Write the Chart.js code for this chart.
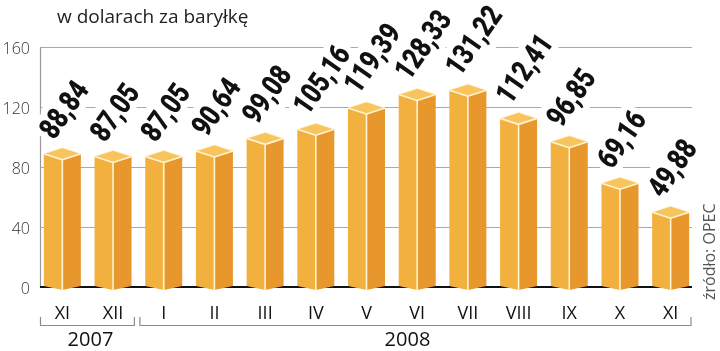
<!DOCTYPE html>
<html><head><meta charset="utf-8">
<script src="https://cdn.jsdelivr.net/npm/chart.js@4"></script>
<style>html,body{margin:0;padding:0;background:#fff}#wrap{width:720px;height:351px}</style>
</head><body><div id="wrap"><canvas id="c" width="720" height="351"></canvas></div>
<script>
const categories = ['XI','XII','I','II','III','IV','V','VI','VII','VIII','IX','X','XI'];
const prices = [88.84,87.05,87.05,90.64,99.08,105.16,119.39,128.33,131.22,112.41,96.85,69.16,49.88];
const valueLabels = ['88,84','87,05','87,05','90,64','99,08','105,16','119,39','128,33','131,22','112,41','96,85','69,16','49,88'];
const yTicks = [0,40,80,120,160];
const yearGroups = [{label:'2007', from:0, to:1},{label:'2008', from:2, to:12}];
const titleText = 'w dolarach za baryłkę';
const sourceText = 'źródło: OPEC';

function poly(ctx, pts, fill){
  ctx.beginPath(); ctx.moveTo(pts[0][0],pts[0][1]);
  for(let i=1;i<pts.length;i++) ctx.lineTo(pts[i][0],pts[i][1]);
  ctx.closePath(); ctx.fillStyle=fill; ctx.fill();
}
const LABEL_FONT = '900 30px Roboto';
const LABEL_ANGLE = -55*Math.PI/180;
const LABEL_SX = 0.8;
function labelOrigin(bar){ return [bar.x-8, bar.y-13]; }
function drawLabel(ctx, bar, text, halo){
  const [ox,oy]=labelOrigin(bar);
  ctx.save(); ctx.translate(ox,oy); ctx.rotate(LABEL_ANGLE); ctx.scale(LABEL_SX,1);
  if(halo) ctx.strokeText(text,0,0); else ctx.fillText(text,0,0);
  ctx.restore();
}

const deco = {
  id:'deco',
  beforeDatasetsDraw(chart){
    const {ctx, chartArea:a, scales:{x,y}} = chart;
    ctx.save();
    ctx.strokeStyle='#a9a9a9'; ctx.lineWidth=1;
    yTicks.forEach(v=>{
      if(v===0) return;
      const py=Math.round(y.getPixelForValue(v))+0.5;
      ctx.beginPath(); ctx.moveTo(40,py); ctx.lineTo(a.right-4,py); ctx.stroke();
    });
    const y0=Math.round(y.getPixelForValue(0));
    ctx.strokeStyle='#9a9a9a'; ctx.lineWidth=1.2;
    ctx.beginPath(); ctx.moveTo(40.5,a.top); ctx.lineTo(40.5,y0); ctx.stroke();
    ctx.strokeStyle='#111'; ctx.lineWidth=2;
    ctx.beginPath(); ctx.moveTo(40,y0); ctx.lineTo(a.right-4,y0); ctx.stroke();
    const meta=chart.getDatasetMeta(0);
    ctx.font=LABEL_FONT; ctx.textAlign='left'; ctx.textBaseline='alphabetic';
    ctx.lineJoin='round'; ctx.strokeStyle='#fff'; ctx.lineWidth=14;
    meta.data.forEach((bar,i)=>drawLabel(ctx,bar,valueLabels[i],true));
    ctx.restore();
  },
  afterDatasetsDraw(chart){
    const {ctx, chartArea:a, scales:{x,y}} = chart;
    const meta=chart.getDatasetMeta(0);
    ctx.save();
    meta.data.forEach((bar,i)=>{
      const cx=bar.x, top=bar.y, base=bar.base, hw=bar.width/2;
      const d=6, db=3, L=cx-hw, R=cx+hw;
      poly(ctx,[[L,top],[cx,top+d],[cx,base+db],[L,base-1]],'#F2B13F');
      poly(ctx,[[cx,top+d],[R,top],[R,base-1],[cx,base+db]],'#E8972C');
      poly(ctx,[[L,top],[cx,top-d],[R,top],[cx,top+d]],'#F7C45E');
      ctx.strokeStyle='#FFF3D6'; ctx.lineWidth=1.6; ctx.lineJoin='round';
      ctx.beginPath(); ctx.moveTo(L,top); ctx.lineTo(cx,top+d); ctx.lineTo(R,top); ctx.stroke();
      ctx.beginPath(); ctx.moveTo(cx,top+d); ctx.lineTo(cx,base+db); ctx.stroke();
      ctx.strokeStyle='rgba(255,240,200,0.8)'; ctx.lineWidth=1;
      ctx.beginPath(); ctx.moveTo(L,top); ctx.lineTo(cx,top-d); ctx.lineTo(R,top); ctx.stroke();
    });
    ctx.font=LABEL_FONT; ctx.textAlign='left'; ctx.textBaseline='alphabetic'; ctx.fillStyle='#111';
    meta.data.forEach((bar,i)=>drawLabel(ctx,bar,valueLabels[i],false));
    ctx.font='19px "Open Sans"'; ctx.fillStyle='#222'; ctx.textAlign='left'; ctx.textBaseline='alphabetic';
    ctx.fillText(titleText,57,23);
    const half=(x.getPixelForValue(1)-x.getPixelForValue(0))/2;
    ctx.strokeStyle='#8a8a8a'; ctx.lineWidth=1.2;
    ctx.font='20px "Open Sans"'; ctx.fillStyle='#111'; ctx.textAlign='center';
    yearGroups.forEach((g,gi)=>{
      const x1=x.getPixelForValue(g.from)-half+(gi===0?3.5:1.5);
      const x2=x.getPixelForValue(g.to)+half-(gi===0?4:5);
      ctx.beginPath(); ctx.moveTo(x1,317); ctx.lineTo(x1,325.5); ctx.lineTo(x2,325.5); ctx.lineTo(x2,317); ctx.stroke();
      ctx.fillText(g.label,(x1+x2)/2+(gi===0?3:-8),346);
    });
    ctx.save(); ctx.translate(715,300); ctx.rotate(-Math.PI/2);
    ctx.font='16px "Open Sans"'; ctx.fillStyle='#555'; ctx.textAlign='left';
    ctx.fillText(sourceText,0,0); ctx.restore();
    ctx.restore();
  }
};

new Chart(document.getElementById('c'),{
  type:'bar',
  data:{labels:categories, datasets:[{data:prices, backgroundColor:'rgba(0,0,0,0)', borderWidth:0,
    categoryPercentage:1, barPercentage:0.73}]},
  options:{
    responsive:false, animation:false, devicePixelRatio:1,
    layout:{padding:{top:47,right:24,left:0,bottom:0}},
    plugins:{legend:{display:false}, tooltip:{enabled:false}},
    scales:{
      x:{grid:{display:false, drawTicks:false}, border:{display:false},
         ticks:{font:{family:'Open Sans', size:18}, color:'#111', padding:16, maxRotation:0, autoSkip:false},
         afterFit(s){ s.height=64; }},
      y:{min:0,max:160, grid:{display:false, drawTicks:false}, border:{display:false},
         ticks:{stepSize:40, font:{family:'Open Sans', size:16, weight:300}, color:'#333', padding:7, labelOffset:2},
         afterFit(s){ s.width=37; }}
    }
  },
  plugins:[deco]
});
</script></body></html>
